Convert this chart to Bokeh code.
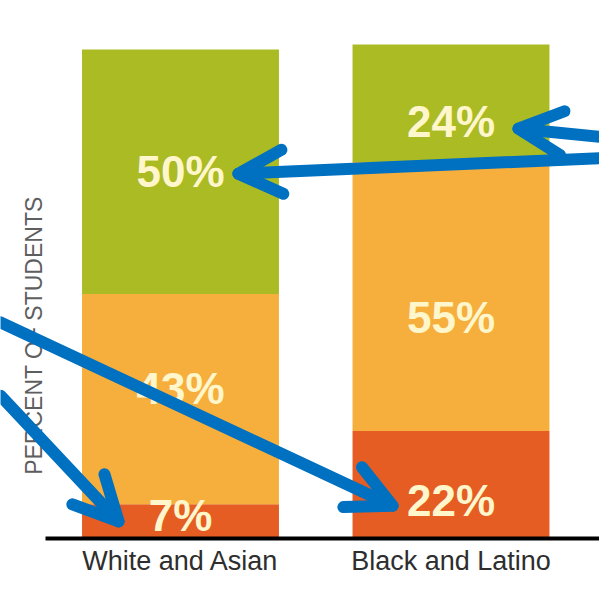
import math
from bokeh.plotting import figure
from bokeh.models import ColumnDataSource, Range1d, Label, Arrow, OpenHead
from bokeh.core.properties import value
from bokeh.embed import file_html
from bokeh.resources import INLINE

# ---- data ----
groups = ["White and Asian", "Black and Latino"]
low = [7, 22]        # bottom segment (red-orange)
mid = [43, 55]       # middle segment (orange)
high = [50, 24]      # top segment (green)
y_title = "PERCENT OF STUDENTS"

xpos = [i + 1 for i in range(len(groups))]
src = ColumnDataSource(dict(x=xpos, low=low, mid=mid, high=high))

colors = ["#E55D22", "#F6AF3C", "#AABB24"]
text_color = "#FFF6CC"
arrow_color = "#0070C0"

p = figure(width=599, height=575, output_backend="svg", toolbar_location=None,
           x_range=Range1d(0.3346, 2.549), y_range=Range1d(-7.566, 110.02),
           min_border=0)
p.outline_line_color = None
p.grid.visible = False
p.axis.visible = False
p.background_fill_color = "white"
p.border_fill_color = "white"

p.vbar_stack(["low", "mid", "high"], x="x", width=0.728, color=colors,
             line_color=None, source=src)

# baseline (x axis line)
p.segment(x0=[0.501], y0=[0], x1=[2.549], y1=[0], line_color="black",
          line_width=4)

# category labels under the baseline
p.text(x=xpos, y=[0] * len(xpos), text=groups, y_offset=22,
       text_align="center", text_baseline="middle",
       text_font=value("Liberation Sans"), text_font_size="27px",
       text_color="#2e2e2e")

# segment labels
lx, ly, lt, loff = [], [], [], []
nudges = [[-6, -11, 0], [16, 21, 18]]
for i, x in enumerate(xpos):
    bottom = 0
    for j, v in enumerate([low[i], mid[i], high[i]]):
        lx.append(x)
        ly.append(bottom + v / 2)
        lt.append(f"{v}%")
        loff.append(nudges[i][j])
        bottom += v
lsrc = ColumnDataSource(dict(x=lx, y=ly, t=lt, off=loff))
p.text(x="x", y="y", text="t", y_offset="off", source=lsrc,
       text_align="center", text_baseline="middle",
       text_font=value("Liberation Sans"), text_font_style="bold",
       text_font_size="44px", text_color=text_color)

p.add_layout(Label(x=33, x_units="screen", y=41.5, y_units="data",
                   text=y_title, angle=math.pi / 2, text_align="center",
                   text_baseline="middle", text_font="Liberation Sans",
                   text_font_size="23px", text_color="#5e5e5e"))

# annotation arrows (start x, start y, tip x, tip y) in data units
arrows = [
    (2.608, 81.8, 2.2495, 83.8),
    (2.608, 77.9, 1.214, 74.6),
    (0.3346, 29.2, 0.771, 3.5),
    (0.3346, 44.2, 1.784, 6.7),
]
for x0, y0, x1, y1 in arrows:
    p.add_layout(Arrow(x_start=x0, y_start=y0, x_end=x1, y_end=y1,
                       line_color=arrow_color, line_width=12,
                       line_cap="round",
                       end=OpenHead(size=44, line_color=arrow_color,
                                    line_width=12, line_cap="round",
                                    line_join="round")))

open("out.html", "w").write(file_html(p, INLINE))
